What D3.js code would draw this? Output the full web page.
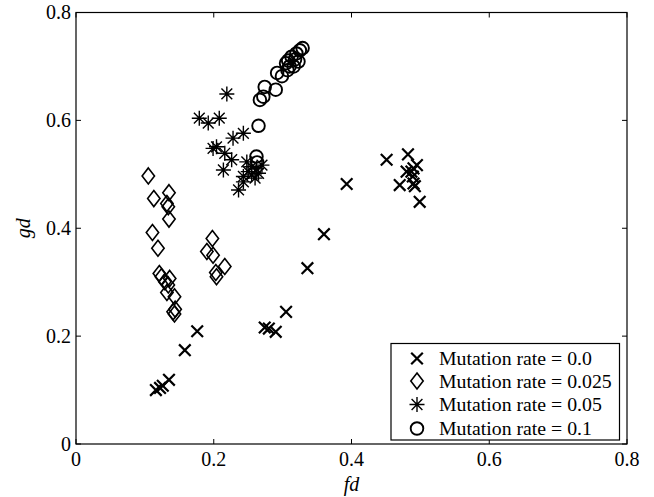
<!DOCTYPE html>
<html>
<head>
<meta charset="utf-8">
<script src="https://cdn.jsdelivr.net/npm/d3@7"></script>
<style>
  body { margin: 0; background: #fff; }
  text { font-family: 'Liberation Serif', 'Times New Roman', Times, 'DejaVu Serif', serif; }
</style>
</head>
<body>
<svg id="chart" width="654" height="497"></svg>
<script>
// values: [fd, gd]
let rate00 = [[0.116,0.100],[0.126,0.108],[0.122,0.104],[0.135,0.119],[0.158,0.174],[0.176,0.209],
    [0.274,0.216],[0.280,0.214],[0.290,0.208],[0.305,0.245],[0.336,0.326],[0.360,0.389],[0.393,0.482],
    [0.451,0.527],[0.482,0.537],[0.470,0.480],[0.480,0.505],[0.490,0.511],[0.495,0.517],[0.489,0.496],
    [0.490,0.483],[0.492,0.478],[0.499,0.449],[0.487,0.505]];
let rate025 = [[0.105,0.497],[0.113,0.455],[0.135,0.466],[0.132,0.446],[0.134,0.440],[0.135,0.417],
    [0.111,0.392],[0.119,0.363],[0.198,0.381],[0.190,0.357],[0.199,0.350],[0.216,0.329],[0.203,0.318],
    [0.204,0.310],[0.121,0.316],[0.124,0.310],[0.129,0.301],[0.136,0.307],[0.134,0.295],[0.132,0.281],
    [0.143,0.273],[0.144,0.250],[0.143,0.241],[0.141,0.245]];
let rate05 = [[0.219,0.649],[0.179,0.604],[0.192,0.595],[0.208,0.604],[0.243,0.576],[0.228,0.567],
    [0.199,0.548],[0.204,0.551],[0.216,0.539],[0.226,0.527],[0.214,0.508],[0.248,0.523],[0.255,0.514],
    [0.270,0.517],[0.243,0.496],[0.255,0.499],[0.265,0.502],[0.236,0.471],[0.243,0.486],[0.260,0.493],
    [0.250,0.505],[0.262,0.510]];
let rate10 = [[0.265,0.590],[0.262,0.533],[0.263,0.522],[0.267,0.638],[0.272,0.644],[0.274,0.662],
    [0.290,0.657],[0.292,0.688],[0.299,0.682],[0.305,0.706],[0.310,0.700],[0.313,0.718],[0.320,0.724],
    [0.325,0.730],[0.329,0.734],[0.323,0.709],[0.316,0.700],[0.307,0.693],[0.318,0.713],[0.308,0.711]];

let xTicks = [0, 0.2, 0.4, 0.6, 0.8];
let yTicks = [0, 0.2, 0.4, 0.6, 0.8];
let legendLabels = ["Mutation rate = 0.0", "Mutation rate = 0.025", "Mutation rate = 0.05", "Mutation rate = 0.1"];

let svg = d3.select("#chart");
let plotLeft = 76, plotRight = 627, plotTop = 12.5, plotBottom = 444;
let serif = "'Liberation Serif', 'Times New Roman', Times, 'DejaVu Serif', serif";

let x = d3.scaleLinear().domain([0, 0.8]).range([plotLeft, plotRight]);
let y = d3.scaleLinear().domain([0, 0.8]).range([plotBottom, plotTop]);

// marker shapes, drawn around 0,0
function crossPath(s) { return `M${-s},${-s}L${s},${s}M${-s},${s}L${s},${-s}`; }
function diamondPath(w, h) { return `M0,${-h}L${w},0L0,${h}L${-w},0Z`; }
function starPath(s) {
    let d = s * 0.72;
    return `M${-s},0L${s},0M0,${-s}L0,${s}M${-d},${-d}L${d},${d}M${-d},${d}L${d},${-d}`;
}

let series = [
    { data: rate00, draw: g => g.append("path").attr("d", crossPath(5.8)).attr("stroke-width", 2.2) },
    { data: rate025, draw: g => g.append("path").attr("d", diamondPath(6.2, 8)).attr("stroke-width", 1.6) },
    { data: rate05, draw: g => g.append("path").attr("d", starPath(7.5)).attr("stroke-width", 1.4) },
    { data: rate10, draw: g => g.append("circle").attr("r", 6.3).attr("stroke-width", 1.9) }
];

// axes box + ticks (MATLAB style, ticks inside on all four sides)
let axes = svg.append("g");
axes.append("rect")
    .attr("x", plotLeft).attr("y", plotTop)
    .attr("width", plotRight - plotLeft).attr("height", plotBottom - plotTop)
    .attr("fill", "none").attr("stroke", "#000").attr("stroke-width", 1.2);

let tickLen = 5;
xTicks.forEach(t => {
    axes.append("line").attr("x1", x(t)).attr("x2", x(t)).attr("y1", plotBottom).attr("y2", plotBottom - tickLen).attr("stroke", "#000");
    axes.append("line").attr("x1", x(t)).attr("x2", x(t)).attr("y1", plotTop).attr("y2", plotTop + tickLen).attr("stroke", "#000");
    axes.append("text").attr("x", x(t)).attr("y", 466).attr("font-family", serif)
        .attr("text-anchor", "middle").attr("font-size", 20).text(d3.format("")(t));
});
yTicks.forEach(t => {
    axes.append("line").attr("x1", plotLeft).attr("x2", plotLeft + tickLen).attr("y1", y(t)).attr("y2", y(t)).attr("stroke", "#000");
    axes.append("line").attr("x1", plotRight).attr("x2", plotRight - tickLen).attr("y1", y(t)).attr("y2", y(t)).attr("stroke", "#000");
    axes.append("text").attr("x", plotLeft - 5).attr("y", y(t)).attr("dy", "0.34em").attr("font-family", serif)
        .attr("text-anchor", "end").attr("font-size", 20).text(d3.format("")(t));
});

// axis titles
svg.append("text").attr("x", (plotLeft + plotRight) / 2).attr("y", 491).attr("font-family", serif)
    .attr("text-anchor", "middle").attr("font-size", 20).attr("font-style", "italic").text("fd");
svg.append("text").attr("transform", `translate(30,${(plotTop + plotBottom) / 2}) rotate(-90)`)
    .attr("font-family", serif)
    .attr("text-anchor", "middle").attr("font-size", 20).attr("font-style", "italic").text("gd");

// points
series.forEach(s => {
    svg.append("g").selectAll("g")
        .data(s.data)
        .enter().append("g")
        .attr("transform", d => `translate(${x(d[0])},${y(d[1])})`)
        .attr("fill", "none").attr("stroke", "#000")
        .each(function () { s.draw(d3.select(this)); });
});

// legend
let legend = svg.append("g");
legend.append("rect")
    .attr("x", 391).attr("y", 343.5).attr("width", 228.5).attr("height", 96.5)
    .attr("fill", "#fff").attr("stroke", "#000").attr("stroke-width", 1.2);
let legendY = [358.5, 381, 404.5, 428.5];
series.forEach((s, i) => {
    let g = legend.append("g")
        .attr("transform", `translate(417,${legendY[i]})`)
        .attr("fill", "none").attr("stroke", "#000");
    s.draw(g);
    legend.append("text").attr("x", 439).attr("y", legendY[i]).attr("dy", "0.35em").attr("font-family", serif)
        .attr("font-size", 19.8).text(legendLabels[i]);
});
</script>
</body>
</html>
